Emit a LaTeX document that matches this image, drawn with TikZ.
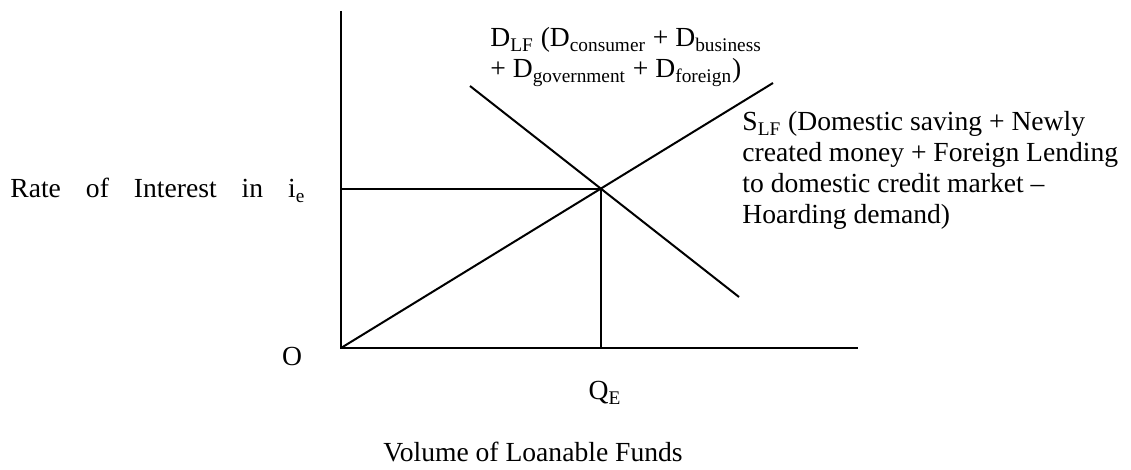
\documentclass[tikz,border=0pt]{standalone}
\usepackage{fontspec}
\setmainfont{Liberation Serif}
\usetikzlibrary{positioning,intersections}

\tikzset{
  curve/.style={line width=1pt},
  lbl/.style={inner sep=0pt, font=\fontsize{13.8}{15.5}\selectfont, align=left},
}

\begin{document}
\begin{tikzpicture}[x=0.5pt,y=-0.5pt]
        \useasboundingbox (0,0) rectangle (1131,470);

        % Axes
        \coordinate (O) at (341,348);
        \coordinate (ytop) at (341,11);
        \coordinate (xend) at (858,348);
        \draw[curve] (ytop) -- (O) -- (xend);

        % Supply and demand
        \coordinate (S1) at (773,83);
        \coordinate (D0) at (470,86);
        \coordinate (D1) at (739,297);
        \draw[curve,name path=supply] (O) -- (S1);
        \draw[curve,name path=demand] (D0) -- (D1);
        \path[name intersections={of=supply and demand, by=E}];

        % Equilibrium
        \draw[curve] (O |- E) -- (E) -- (E |- O);

        % Labels (base = last line)
        \node[lbl,anchor=base west] (dlf) at (490,78)
            {D\textsubscript{LF} (D\textsubscript{consumer} + D\textsubscript{business}\\
             + D\textsubscript{government} + D\textsubscript{foreign})};
        \node[lbl,anchor=base west] (slf) at (742,224)
            {S\textsubscript{LF} (Domestic saving + Newly\\
             created money + Foreign Lending\\
             to domestic credit market –\\
             Hoarding demand)};
        \node[lbl,anchor=base west] (rate) at (10,198)
            {\makebox[147.5pt][s]{Rate of Interest in i\textsubscript{e}}};
        \node[lbl] (olbl) at (292,356) {O};
        \node[lbl] (qe) at (605,393) {Q\textsubscript{E}};
        \node[lbl,anchor=base west] (vol) at (383,462) {Volume of Loanable Funds};

\end{tikzpicture}
\end{document}
